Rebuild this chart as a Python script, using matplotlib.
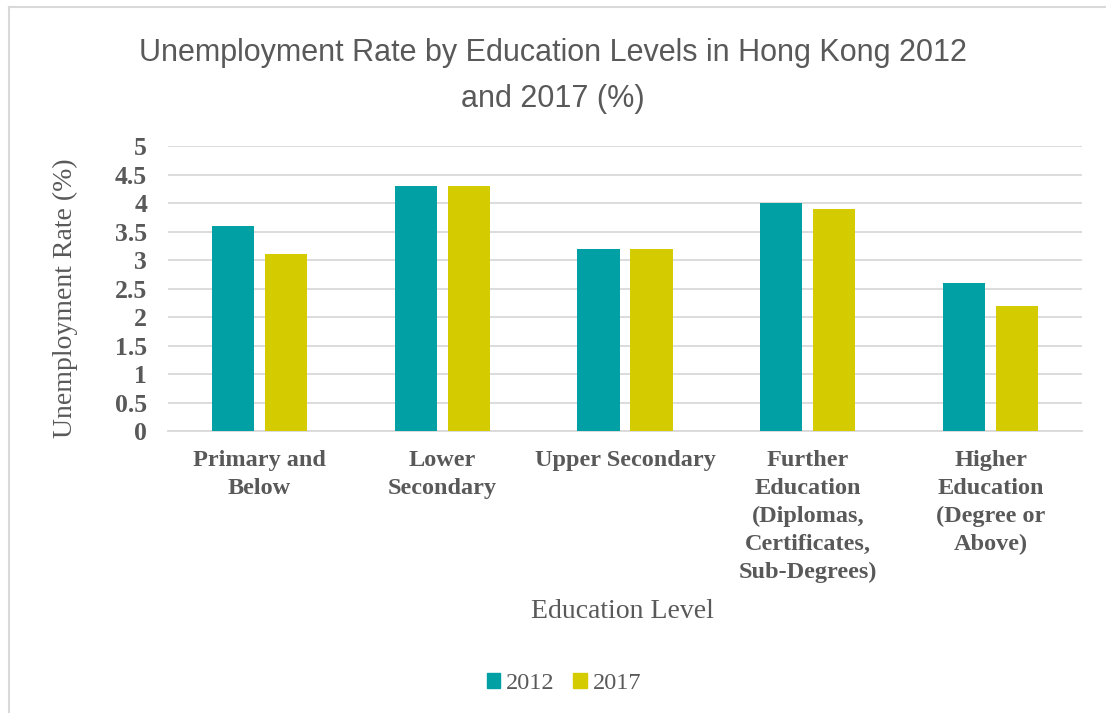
import numpy as np
import matplotlib
matplotlib.use("Agg")
import matplotlib.pyplot as plt
from matplotlib.patches import Patch

levels = ["Primary and\nBelow", "Lower\nSecondary", "Upper Secondary",
          "Further\nEducation\n(Diplomas,\nCertificates,\nSub-Degrees)",
          "Higher\nEducation\n(Degree or\nAbove)"]
rate_2012 = [3.6, 4.3, 3.2, 4.0, 2.6]
rate_2017 = [3.1, 4.3, 3.2, 3.9, 2.2]
yticks = [0, 0.5, 1, 1.5, 2, 2.5, 3, 3.5, 4, 4.5, 5]

teal = "#00A0A4"
yellow = "#D4CC00"
gray = "#595959"
serif = "Liberation Serif"

fig = plt.figure(figsize=(11.06, 7.13), dpi=100)
ax = fig.add_axes([0.1519, 0.3955, 0.8264, 0.3997])

x = np.arange(len(levels))
w = 0.23
ax.bar(x - 0.145, rate_2012, w, color=teal, zorder=3)
ax.bar(x + 0.145, rate_2017, w, color=yellow, zorder=3)

ax.set_xlim(-0.5, len(levels) - 0.5)
ax.set_ylim(0, 5)
ax.set_yticks(yticks)
ax.set_yticklabels([f"{t:g}" for t in yticks], family=serif, fontweight="bold",
                   fontsize=18.5, color=gray)
ax.set_xticks(x)
ax.set_xticklabels(levels, family=serif, fontweight="bold", fontsize=17.5,
                   color=gray, linespacing=1.42, va="top")
ax.tick_params(axis="x", length=0, pad=14)
ax.tick_params(axis="y", length=0, pad=15)
ax.grid(axis="y", color="#D9D9D9", linewidth=1.3, zorder=0)
for s in ["top", "right", "left"]:
    ax.spines[s].set_visible(False)
ax.spines["bottom"].set_color("#D9D9D9")
ax.spines["bottom"].set_linewidth(1.3)

ax.set_ylabel("Unemployment Rate (%)", family=serif, fontsize=20, color=gray)
ax.yaxis.set_label_coords(-0.099, 0.465)
fig.text(0.5625, 0.143, "Education Level", family=serif, fontsize=20,
         color=gray, ha="center", va="center")

fig.text(0.5, 0.893, "Unemployment Rate by Education Levels in Hong Kong 2012\nand 2017 (%)",
         family="Liberation Sans", fontsize=22, color=gray, ha="center",
         va="center", linespacing=1.68)

handles = [Patch(color=teal, label="2012"), Patch(color=yellow, label="2017")]
fig.legend(handles=handles, loc="center", bbox_to_anchor=(0.51, 0.041),
           ncol=2, frameon=False, prop={"family": serif, "size": 17.5},
           labelcolor=gray, handlelength=0.55, handleheight=0.55,
           handletextpad=0.25, columnspacing=0.75)

# light frame around the chart
fig.add_artist(plt.Line2D([0.0081, 0.0081], [0, 0.990], color="#D9D9D9",
                          linewidth=1.5, transform=fig.transFigure))
fig.add_artist(plt.Line2D([0.0081, 1], [0.990, 0.990], color="#D9D9D9",
                          linewidth=1.5, transform=fig.transFigure))

fig.savefig("out.png", dpi=100)
